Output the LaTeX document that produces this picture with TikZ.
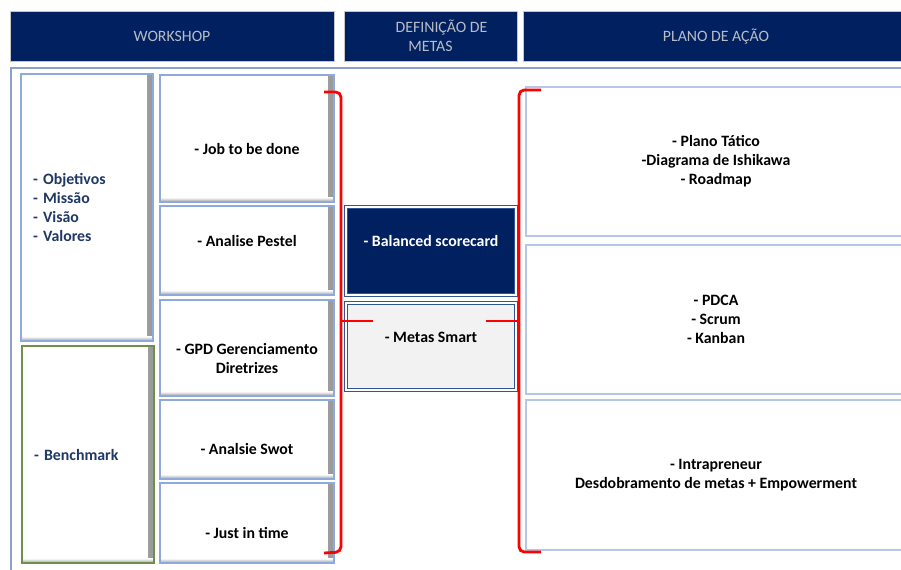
\documentclass[tikz,border=0pt]{standalone}
\usepackage{fontspec}
\setmainfont{Carlito}
\definecolor{navy}{RGB}{0,32,96}
\definecolor{headgray}{RGB}{185,188,198}
\definecolor{listblue}{RGB}{31,56,100}
\definecolor{cardline}{RGB}{142,169,219}
\definecolor{paleline}{RGB}{180,199,231}
\definecolor{benchgreen}{RGB}{112,142,76}
\definecolor{goalline}{RGB}{47,85,151}
\definecolor{bracered}{RGB}{255,0,0}

\begin{document}
\begin{tikzpicture}[x=0.02cm,y=-0.02cm,
   font=\fontsize{9}{10.8}\selectfont,
   bevel/.style={path picture={
      \shade[left color=white,right color=black!40]
         ([xshift=-3pt]path picture bounding box.north east) rectangle (path picture bounding box.south east);
      \shade[top color=white,bottom color=black!40]
         ([yshift=2.6pt]path picture bounding box.south west) rectangle (path picture bounding box.south east);}},
   head/.style={draw=gray!45,fill=navy,text=headgray,minimum height=1cm,align=center,inner sep=0pt},
   side/.style={draw=#1,line width=0.8pt,fill=white,bevel,text=listblue,font=\fontsize{9}{10.8}\selectfont\bfseries,
      align=left,minimum width=2.64cm,text width=2.16cm,inner xsep=0.24cm},
   card/.style={draw=cardline,line width=0.8pt,fill=white,bevel,font=\fontsize{9}{10.8}\selectfont\bfseries,
      align=center,minimum width=3.48cm,inner sep=0pt},
   goal/.style={draw=goalline,line width=0.7pt,double=white,double distance=0.9pt,fill=#1,
      font=\fontsize{9}{10.8}\selectfont\bfseries,minimum width=3.4cm,inner sep=0pt},
   plan/.style={draw=paleline,line width=0.8pt,fill=white,font=\fontsize{9}{10.8}\selectfont\bfseries,
      align=center,minimum width=7.6cm,inner sep=0pt},
   brace/.style={draw=bracered,line width=1.6pt,rounded corners=3pt}]
   \useasboundingbox (0,0) rectangle (901,569);
   \clip (0,0) rectangle (901,569);

   \node[head,minimum width=6.48cm] (h_work)   at (172,36)   {WORKSHOP};
   \node[head,minimum width=3.46cm] (h_metas)  at (430.5,36) {\hspace*{0.44cm}DEFINIÇÃO DE\\METAS};
   \node[head,minimum width=7.7cm]  (h_plano)  at (716,36.5) {PLANO DE AÇÃO};

   \draw[draw=cardline!80!gray,line width=1pt] (11,68) rectangle (910,580);

   \node[side=cardline,minimum height=5.34cm]   (obj)   at (87,207.5) {- Objetivos\\- Missão\\- Visão\\- Valores};
   \node[side=benchgreen,minimum height=4.34cm] (bench) at (88,454.5) {- Benchmark};

   \node[card,minimum height=2.54cm,text height=18.6pt,text depth=0pt] (job)    at (247,138.5) {- Job to be done};
   \node[card,minimum height=1.78cm,text height=1pt,text depth=5.4pt]  (pestel) at (247,250.5) {- Analise Pestel};
   \node[card,minimum height=1.92cm,text height=29pt,text depth=0pt]   (gpd)    at (247,348)   {- GPD Gerenciamento\\Diretrizes};
   \node[card,minimum height=1.58cm,text height=17.4pt,text depth=0pt] (swot)   at (247,439.5) {- Analsie Swot};
   \node[card,minimum height=1.6cm,text height=18pt,text depth=0pt]    (jit)    at (247,523)   {- Just in time};

   \node[goal=navy,text=white,minimum height=1.76cm,text height=1pt,text depth=6pt] (bsc)   at (431,251)   {- Balanced scorecard};
   \node[goal=black!5,minimum height=1.74cm,text height=1pt,text depth=5.4pt]       (smart) at (431,346.5) {- Metas Smart};

   \node[plan,minimum height=2.98cm] (tatico) at (716,161.5) {- Plano Tático\\-Diagrama de Ishikawa\\- Roadmap};
   \node[plan,minimum height=2.98cm] (pdca)   at (716,319.5) {- PDCA\\- Scrum\\- Kanban};
   \node[plan,minimum height=3cm]    (intra)  at (716,475)   {- Intrapreneur\\Desdobramento de metas + Empowerment};

   \coordinate (lb_top) at (324,92);
   \coordinate (lb_bot) at (341,552);
   \coordinate (lb_mid) at (341,321);
   \coordinate (lb_tip) at (373,321);
   \coordinate (rb_top) at (541,90);
   \coordinate (rb_bot) at (519,552);
   \coordinate (rb_mid) at (519,321);
   \coordinate (rb_tip) at (486,321);

   \draw[brace] (lb_top) -| (lb_bot) -- ++(-17,1);
   \draw[brace] (lb_mid) -- (lb_tip);
   \draw[brace] (rb_top) -| (rb_bot) -- ++(22,0);
   \draw[brace] (rb_mid) -- (rb_tip);
\end{tikzpicture}
\end{document}
